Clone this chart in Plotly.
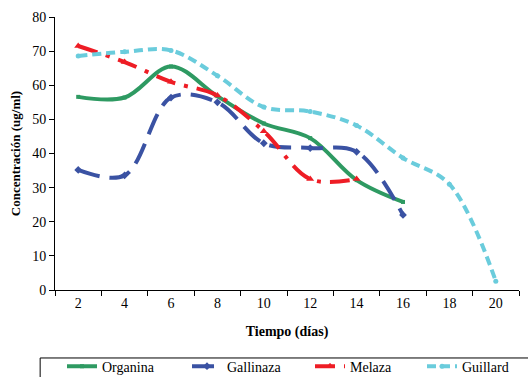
import plotly.graph_objects as go

dias = ["2", "4", "6", "8", "10", "12", "14", "16", "18", "20"]
organina = [56.6, 56.4, 65.5, 56.8, 48.8, 44.5, 32.2, 25.8]
gallinaza = [35.2, 33.6, 56.4, 55.0, 43.0, 41.6, 40.5, 22.0]
melaza = [71.5, 66.8, 61.0, 57.0, 46.5, 32.5, 32.5]
guillard = [68.6, 69.8, 70.2, 62.8, 53.6, 52.3, 48.2, 38.7, 31.0, 2.6]

series = [
    ("Organina", organina, "#2E9A62", "solid", "square", 4, "legend", 0.0151),
    ("Gallinaza", gallinaza, "#3A52A3", "22px,10px", "diamond", 6, "legend2", 0.2845),
    ("Melaza", melaza, "#EE1D25", "20px,9px,4px,9px", "triangle-up", 7, "legend3", 0.5496),
    ("Guillard", guillard, "#6ACCDC", "9px,5px", "circle", 5, "legend4", 0.7909),
]

font = "Liberation Serif, Times New Roman, serif"
fig = go.Figure()
legends = {}
for name, vals, color, dash, sym, msize, leg, lx in series:
    fig.add_trace(go.Scatter(
        x=dias[:len(vals)], y=vals, name=name, mode="lines+markers", legend=leg,
        showlegend=True,
        line=dict(color=color, width=4, dash=dash, shape="spline", smoothing=1),
        marker=dict(symbol=sym, size=msize, color=color),
    ))
    legends[leg] = dict(
        orientation="h", x=lx, xanchor="left", y=-0.222, yanchor="top",
        borderwidth=0, bgcolor="rgba(0,0,0,0)", font=dict(family=font, size=14),
    )

fig.update_layout(
    width=528, height=377, showlegend=True,
    margin=dict(l=55, r=9, t=17, b=87, autoexpand=False),
    paper_bgcolor="white", plot_bgcolor="white",
    font=dict(family=font, size=14, color="black"),
    xaxis=dict(
        type="category", categoryorder="array", categoryarray=dias,
        range=[-0.5, 9.5], tickson="boundaries", ticks="outside", ticklen=5,
        tickcolor="black", showline=True, linecolor="black", linewidth=1,
        showgrid=False, zeroline=False,
        tickfont=dict(family=font, size=14),
        title=dict(text="<b>Tiempo (días)</b>", font=dict(family=font, size=14), standoff=16),
    ),
    yaxis=dict(
        range=[0, 80], dtick=10, ticks="outside", ticklen=5, tickcolor="black",
        showline=True, linecolor="black", linewidth=1, showgrid=False, zeroline=False,
        tickfont=dict(family=font, size=14),
        title=dict(text="<b>Concentración (ug/ml)</b>", font=dict(family=font, size=13), standoff=8),
    ),
    shapes=[dict(
        type="rect", xref="paper", yref="paper",
        x0=-0.032, x1=1.08, y0=-0.45, y1=-0.249,
        line=dict(color="black", width=1), fillcolor="rgba(0,0,0,0)", layer="above",
    )],
    **legends,
)

fig.write_html("out.html", post_script="document.body.style.margin='0px';",
               config={"displayModeBar": False})
